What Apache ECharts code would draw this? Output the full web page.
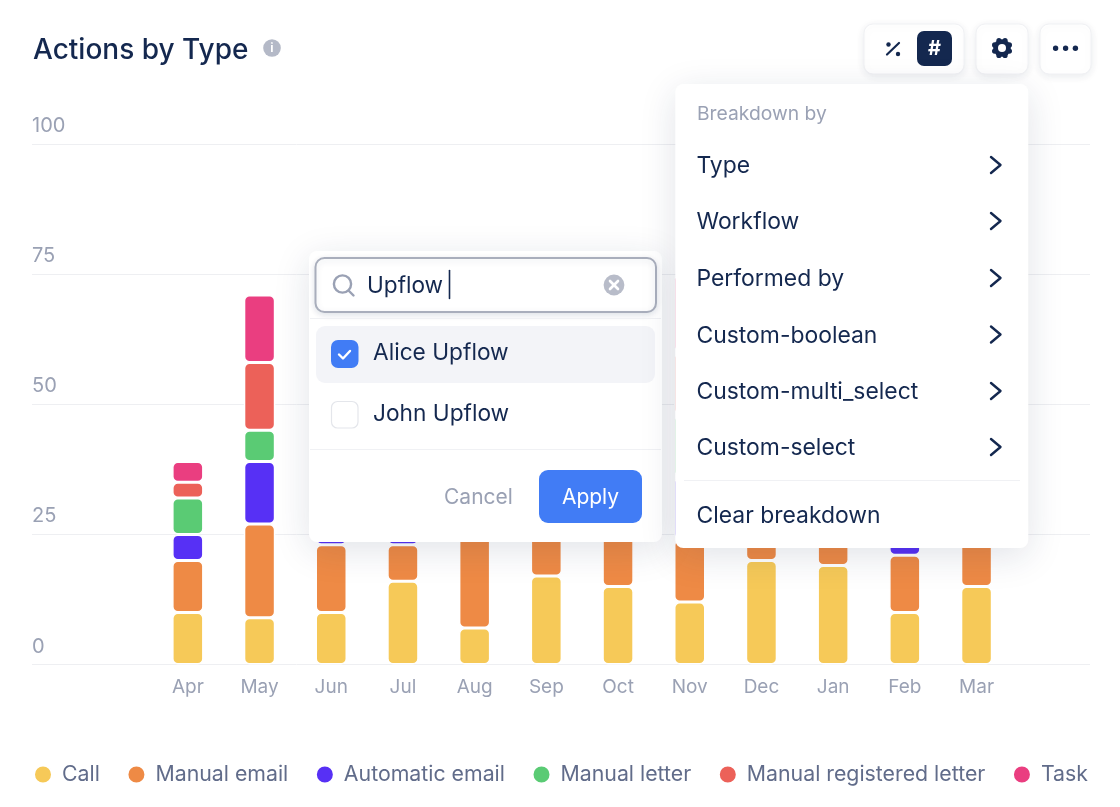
<!DOCTYPE html>
<html>
<head>
<meta charset="utf-8">
<title>Actions by Type</title>
<script src="https://cdn.jsdelivr.net/npm/echarts@6/dist/echarts.min.js"></script>
<style>
  html, body { margin: 0; padding: 0; background: #fff; }
  #chart { width: 1120px; height: 807px; }
</style>
</head>
<body>
<div id="chart"></div>
<script>
// Monthly action counts, stacked by type.
const months = ['Apr', 'May', 'Jun', 'Jul', 'Aug', 'Sep', 'Oct', 'Nov', 'Dec', 'Jan', 'Feb', 'Mar'];
const call = [10, 9, 10, 16, 7, 17, 15, 12, 20, 19, 10, 15];
const manualEmail = [10, 18, 13, 7, 18, 10, 11, 12, 5, 6, 11, 10];
const automaticEmail = [5, 12, 6, 5, 7, 8, 6, 12, 6, 4, 5, 7];
const manualLetter = [7, 6, 8, 6, 9, 7, 9, 12, 7, 6, 6, 8];
const manualRegisteredLetter = [3, 13, 9, 7, 6, 10, 8, 12, 5, 8, 7, 6];
const task = [4, 13, 10, 6, 7, 9, 8, 15, 6, 7, 8, 9];
const yTicks = [0, 25, 50, 75, 100];

const breakdownItems = ['Type', 'Workflow', 'Performed by', 'Custom-boolean', 'Custom-multi_select', 'Custom-select'];
const breakdownRows = [166.5, 222.5, 279.5, 336, 392.5, 448.5];

const NAVY = '#14284F';
const MUTED = '#9AA1B4';
const BLUE = '#417CF5';
const FONT = 'Inter, sans-serif';

const stacks = [
  ['Call', call, '#F6C958'],
  ['Manual email', manualEmail, '#EE8A45'],
  ['Automatic email', automaticEmail, '#5730F5'],
  ['Manual letter', manualLetter, '#5ACB74'],
  ['Manual registered letter', manualRegisteredLetter, '#EC6159'],
  ['Task', task, '#EA3E80']
];

// Interface chrome drawn above the plot: toolbar, search popover, breakdown menu.
const ui = [];
let depth = 100;
function add(el) { el.z = depth++; el.silent = true; ui.push(el); }
function box(x, y, width, height, r, style) {
  add({ type: 'rect', shape: { x, y, width, height, r }, style });
}
function label(text, x, y, size, fill, extra) {
  add({
    type: 'text', x, y,
    style: Object.assign({ text, fontFamily: FONT, fontSize: size, fill, verticalAlign: 'middle', align: 'left' }, extra || {})
  });
}
function stroke(points, color, width) {
  add({
    type: 'polyline', shape: { points },
    style: { stroke: color, lineWidth: width, fill: null, lineCap: 'round', lineJoin: 'round' }
  });
}
function dot(cx, cy, r, fill) {
  add({ type: 'circle', shape: { cx, cy, r }, style: { fill } });
}
function chevron(y) {
  stroke([[991, y - 9.5], [1000.5, y - 1.5], [991, y + 6.5]], NAVY, 2.4);
}
const softShadow = { shadowColor: 'rgba(20,40,80,0.09)', shadowBlur: 8, shadowOffsetY: 2 };
const cardShadow = { shadowColor: 'rgba(20,40,80,0.13)', shadowBlur: 36, shadowOffsetY: 8 };

// Title info badge
dot(272, 48, 8.8, '#B4B9C7');
label('i', 272, 48, 12, '#fff', { align: 'center', fontWeight: 700 });

// Toolbar buttons
box(864, 24, 100, 50, 9, Object.assign({ fill: '#fff', stroke: '#F0F1F4', lineWidth: 1 }, softShadow));
stroke([[887, 54.5], [899, 43]], NAVY, 2.2);
dot(888.5, 44.5, 2.2, NAVY);
dot(898, 54, 2.2, NAVY);
box(917, 31, 35, 35, 7, { fill: NAVY });
label('#', 934.5, 48.5, 20, '#fff', { align: 'center', fontWeight: 700 });

box(976, 24, 52, 50, 9, Object.assign({ fill: '#fff', stroke: '#F0F1F4', lineWidth: 1 }, softShadow));
dot(1002, 48, 8.8, NAVY);
[0, 45, 90, 135, 180, 225, 270, 315].forEach(function (deg) {
  const a = (deg + 22.5) * Math.PI / 180;
  dot(1002 + 8 * Math.cos(a), 48 + 8 * Math.sin(a), 2.6, NAVY);
});
dot(1002, 48, 4, '#fff');

box(1040, 24, 51, 50, 9, Object.assign({ fill: '#fff', stroke: '#F0F1F4', lineWidth: 1 }, softShadow));
[1055.6, 1065.6, 1075.4].forEach(function (cx) { dot(cx, 48.3, 2.7, NAVY); });

// Person search popover
box(309, 251, 353, 291, 8, Object.assign({ fill: '#fff' }, cardShadow));
box(315.5, 258, 340.5, 54, 9, { fill: '#fff', stroke: '#A9AEBC', lineWidth: 2, shadowColor: 'rgba(20,40,80,0.12)', shadowBlur: 6, shadowOffsetY: 2 });
add({ type: 'circle', shape: { cx: 342.5, cy: 284, r: 8.6 }, style: { fill: null, stroke: '#9AA1B4', lineWidth: 2.4 } });
stroke([[349, 291], [353.5, 295.5]], '#9AA1B4', 2.4);
label('Upflow', 367, 286, 22.6, NAVY);
stroke([[449.5, 270.5], [449.5, 298.5]], NAVY, 1.6);
dot(614, 285, 10.4, '#B8BCC9');
stroke([[610, 281], [618, 289]], '#fff', 2.6);
stroke([[618, 281], [610, 289]], '#fff', 2.6);
add({ type: 'line', shape: { x1: 310, y1: 318.5, x2: 661, y2: 318.5 }, style: { stroke: '#F0F1F4', lineWidth: 1 } });
box(316, 326, 339, 57, 9, { fill: '#F3F4F8' });
box(331, 340, 27.5, 28, 7, { fill: BLUE });
stroke([[339, 354.5], [343, 358.5], [350, 351]], '#fff', 2.4);
label('Alice Upflow', 373, 353.5, 22.7, NAVY);
box(331.5, 401.5, 26.5, 26.5, 6, { fill: '#fff', stroke: '#E4E6EB', lineWidth: 1.2 });
label('John Upflow', 373, 414.5, 22.7, NAVY);
add({ type: 'line', shape: { x1: 310, y1: 449.5, x2: 661, y2: 449.5 }, style: { stroke: '#F0F1F4', lineWidth: 1 } });
label('Cancel', 444, 498, 21, MUTED);
box(539, 470, 103, 53, 9, { fill: BLUE });
label('Apply', 590.5, 498, 21, '#fff', { align: 'center' });

// Breakdown menu
box(675.3, 84, 353, 464, 8, Object.assign({ fill: '#fff' }, cardShadow));
label('Breakdown by', 697, 114, 19.3, MUTED);
breakdownItems.forEach(function (name, i) {
  label(name, 696.5, breakdownRows[i], 22.9, NAVY);
  chevron(breakdownRows[i]);
});
add({ type: 'line', shape: { x1: 684, y1: 480.5, x2: 1020, y2: 480.5 }, style: { stroke: '#F0F1F4', lineWidth: 1 } });
label('Clear breakdown', 696.5, 516.5, 22.9, NAVY);

const chart = echarts.init(document.getElementById('chart'), null, { renderer: 'canvas' });
chart.setOption({
  animation: false,
  backgroundColor: '#fff',
  title: {
    text: 'Actions by Type',
    left: 33, top: 37,
    padding: 0,
    textStyle: { fontFamily: FONT, fontSize: 28, fontWeight: 500, color: NAVY }
  },
  legend: {
    left: 33, top: 764,
    padding: 0,
    icon: 'circle',
    itemWidth: 18, itemHeight: 18,
    itemGap: 26.6,
    selectedMode: false,
    textStyle: { fontFamily: FONT, fontSize: 21.3, color: '#616C8A', padding: [0, 0, 0, 5] },
    data: stacks.map(function (s) { return s[0]; })
  },
  grid: [
    { left: 32, right: 30, top: 144, bottom: 142.5 },
    { left: 152, width: 860.4, top: 144, bottom: 142.5 }
  ],
  xAxis: [
    { gridIndex: 0, type: 'value', min: 0, max: 1, show: false },
    {
      gridIndex: 1, type: 'category', data: months,
      axisLine: { show: false }, axisTick: { show: false },
      axisLabel: { color: MUTED, fontFamily: FONT, fontSize: 19, margin: 13 }
    }
  ],
  yAxis: [
    {
      gridIndex: 0, type: 'value', min: yTicks[0], max: yTicks[yTicks.length - 1], interval: yTicks[1] - yTicks[0],
      axisLine: { show: false }, axisTick: { show: false },
      splitLine: { lineStyle: { color: '#EEEFF2', width: 1 } },
      axisLabel: {
        inside: true, margin: 0, align: 'left', verticalAlign: 'bottom',
        padding: [0, 0, 8, 0],
        color: MUTED, fontFamily: FONT, fontSize: 20
      }
    },
    { gridIndex: 1, type: 'value', min: yTicks[0], max: yTicks[yTicks.length - 1], show: false }
  ],
  series: stacks.map(function (s) {
    return {
      name: s[0],
      type: 'bar',
      stack: 'actions',
      xAxisIndex: 1,
      yAxisIndex: 1,
      barWidth: 31.5,
      data: s[1],
      itemStyle: { color: s[2], borderColor: '#fff', borderWidth: 1.5, borderRadius: 5 }
    };
  }),
  graphic: { elements: ui }
});
</script>
</body>
</html>
